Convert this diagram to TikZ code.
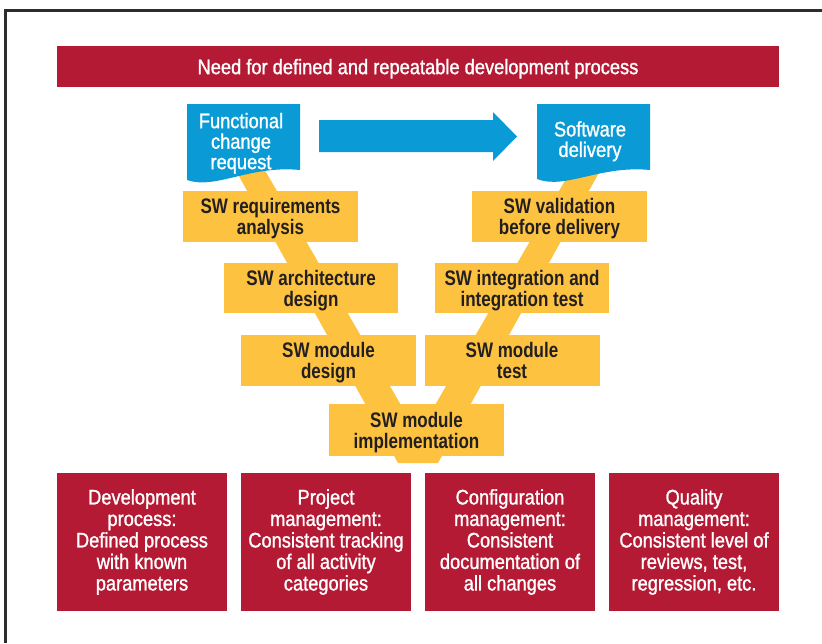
\documentclass[tikz,border=0pt]{standalone}
\usepackage{fontspec}
\setmainfont{Liberation Sans}[FakeStretch=0.87,FakeBold=1.2]
\newfontfamily\yfont{Liberation Sans}[FakeStretch=0.81]
\definecolor{vred}{RGB}{180,26,52}
\definecolor{vblue}{RGB}{10,155,214}
\definecolor{vyellow}{RGB}{252,194,64}
\definecolor{vtext}{RGB}{35,31,32}
\definecolor{vframe}{RGB}{45,45,45}
\newcommand\vt{\rule{0pt}{20.3pt}}
\newcommand\vb{\rule[-5pt]{0pt}{5pt}}
\begin{document}
\begin{tikzpicture}[x=1pt,y=-1pt,
  banner/.style={fill=vred, text=white, inner sep=0pt, minimum width=722pt, minimum height=41pt,
    font=\fontsize{21}{21.5}\selectfont},
  redbox/.style={fill=vred, text=white, align=center, inner sep=0pt, minimum width=170pt, minimum height=138pt,
    font=\fontsize{21}{21.5}\selectfont},
  ybox/.style={fill=vyellow, text=vtext, align=center, inner sep=0pt, minimum width=175pt, minimum height=51pt,
    font=\yfont\bfseries\fontsize{21}{21}\selectfont},
  doctext/.style={text=white, align=center, inner sep=0pt, font=\fontsize{21}{20.5}\selectfont},
  docshape/.style={fill=vblue},
  vband/.style={fill=vyellow},
  blockarrow/.style={fill=vblue},
  frameline/.style={draw=vframe, line width=2.2pt}
]
\useasboundingbox (0,0) rectangle (822,643);
% frame
\draw[frameline] (5.5,643) -- (5.5,10.5) -- (822,10.5);
% banner
\node[banner] (need) at (418,66.5) {\vt Need for defined and repeatable development process\vb};
% V band
\fill[vband] (230,160) -- (259,160) -- (418,434.5) -- (577,160) -- (606,160) -- (438,463) -- (398,463) -- cycle;
% documents
\fill[docshape] (187,104) -- (300,104) -- (300,170) .. controls (250,165) and (215,190) .. (187,180) -- cycle;
\fill[docshape] (537,104) -- (650,104) -- (650,170) .. controls (600,165) and (565,190) .. (537,179) -- cycle;
\node[doctext] (fcr) at (241,141) {\vt Functional\\change\\request\vb};
\node[doctext] (sd) at (590,139) {\vt Software\\delivery\vb};
% block arrow
\fill[blockarrow] (319,120) -- (493,120) -- (493,112) -- (517,136.5) -- (493,161) -- (493,152) -- (319,152) -- cycle;
% yellow boxes
\node[ybox] (req) at (270.5,216.5) {\vt SW requirements\\analysis\vb};
\node[ybox] (val) at (559.5,216.5) {\vt SW validation\\before delivery\vb};
\node[ybox, minimum width=174pt, minimum height=50pt] (arch) at (311,288) {\vt SW architecture\\design\vb};
\node[ybox, minimum width=174pt, minimum height=50pt] (integ) at (522,288) {\vt SW integration and\\integration test\vb};
\node[ybox] (mdes) at (328.5,360.5) {\vt SW module\\design\vb};
\node[ybox] (mtest) at (512,360.5) {\vt SW module\\test\vb};
\node[ybox, minimum height=52pt] (impl) at (416.5,430) {\vt SW module\\implementation\vb};
% red boxes
\node[redbox] (dev) at (142,542) {Development\\process:\\Defined process\\with known\\parameters};
\node[redbox] (pm) at (326,542) {Project\\management:\\Consistent tracking\\of all activity\\categories};
\node[redbox] (cm) at (510,542) {Configuration\\management:\\Consistent\\documentation of\\all changes};
\node[redbox] (qm) at (694,542) {Quality\\management:\\Consistent level of\\reviews, test,\\regression, etc.};
\end{tikzpicture}
\end{document}
